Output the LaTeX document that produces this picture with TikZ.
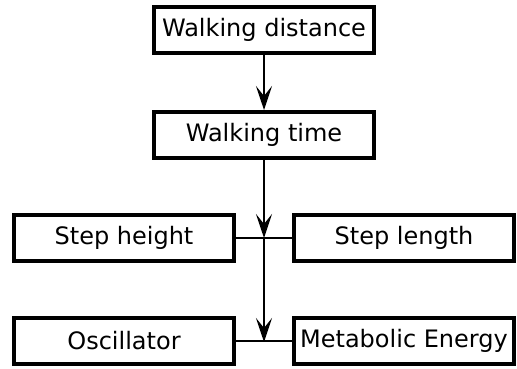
\documentclass[tikz,border=0pt]{standalone}
\usepackage{fontspec}
\setmainfont{DejaVu Sans}
\usetikzlibrary{arrows.meta}
\tikzset{
  box/.style={draw=black, line width=4pt, fill=white, minimum width=220pt,
    minimum height=46pt, inner sep=0pt, font=\fontsize{24}{28}\selectfont},
  link/.style={draw=black, line width=2pt},
  flow/.style={link, -{Stealth[length=24pt, width=16pt, inset=10pt]}}
}
\begin{document}
\begin{tikzpicture}[x=1pt, y=-1pt]
  \useasboundingbox[fill=white] (0,0) rectangle (517,369);
  % main chain
  \node[box] (wd) at (264,30) {Walking distance};
  \node[box] (wt) at (264,135) {Walking time};
  % side factors
  \node[box] (sh) at (124,238) {Step height};
  \node[box] (sl) at (404,238) {Step length};
  \node[box] (osc) at (124,341) {Oscillator};
  \node[box] (me) at (404,341) {Metabolic Energy};
  % junction points on the central axis
  \coordinate (j1) at (264,238);
  \coordinate (j2) at (264,342);
  % connectors
  \draw[link] (sh.east) -- (sl.west);
  \draw[link] (osc.east) -- (me.west);
  \draw[flow] (wd.south) -- (wt.north);
  \draw[flow] (wt.south) -- (j1);
  \draw[flow] (j1) -- (j2);
\end{tikzpicture}
\end{document}
